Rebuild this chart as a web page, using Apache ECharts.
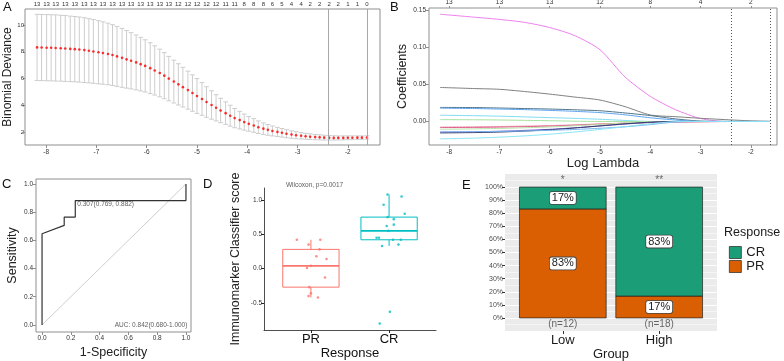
<!DOCTYPE html>
<html>
<head>
<meta charset="utf-8">
<title>Immunomarker classifier panels</title>
<script src="https://cdn.jsdelivr.net/npm/echarts@6/dist/echarts.min.js"></script>
<style>
  html, body { margin: 0; padding: 0; background: #fff; }
  #chart { width: 784px; height: 361px; }
</style>
</head>
<body>
<div id="chart"></div>
<script>
// ---------- A: cross-validated binomial deviance ----------
const logLambda = [-8.18, -8.09, -7.99, -7.90, -7.81, -7.71, -7.62, -7.52, -7.43, -7.34,
  -7.24, -7.15, -7.06, -6.96, -6.87, -6.77, -6.68, -6.59, -6.49, -6.40,
  -6.31, -6.21, -6.12, -6.03, -5.93, -5.84, -5.74, -5.65, -5.56, -5.46,
  -5.37, -5.28, -5.18, -5.09, -5.00, -4.90, -4.81, -4.71, -4.62, -4.53,
  -4.43, -4.34, -4.25, -4.15, -4.06, -3.97, -3.87, -3.78, -3.68, -3.59,
  -3.50, -3.40, -3.31, -3.22, -3.12, -3.03, -2.93, -2.84, -2.75, -2.65,
  -2.56, -2.47, -2.37, -2.28, -2.19, -2.09, -2.00, -1.91, -1.81, -1.72, -1.62];
const cvMean = [8.33, 8.32, 8.31, 8.30, 8.29, 8.27, 8.25, 8.22, 8.20, 8.17,
  8.13, 8.08, 8.03, 7.97, 7.91, 7.84, 7.76, 7.66, 7.55, 7.44,
  7.33, 7.21, 7.08, 6.95, 6.78, 6.61, 6.42, 6.22, 6.00, 5.78,
  5.57, 5.36, 5.14, 4.92, 4.70, 4.48, 4.25, 4.03, 3.82, 3.62,
  3.42, 3.23, 3.05, 2.90, 2.75, 2.62, 2.50, 2.37, 2.26, 2.17,
  2.09, 2.02, 1.95, 1.88, 1.82, 1.77, 1.73, 1.69, 1.66, 1.63,
  1.61, 1.59, 1.58, 1.57, 1.57, 1.57, 1.58, 1.58, 1.59, 1.59, 1.60];
const cvSd = [2.47, 2.47, 2.47, 2.47, 2.47, 2.46, 2.46, 2.45, 2.44, 2.43,
  2.42, 2.40, 2.38, 2.36, 2.33, 2.30, 2.27, 2.24, 2.20, 2.15,
  2.10, 2.05, 2.00, 1.95, 1.90, 1.84, 1.78, 1.72, 1.66, 1.60,
  1.54, 1.48, 1.42, 1.36, 1.30, 1.22, 1.14, 1.06, 0.98, 0.91,
  0.84, 0.78, 0.72, 0.66, 0.60, 0.55, 0.51, 0.47, 0.43, 0.40,
  0.37, 0.34, 0.32, 0.30, 0.28, 0.26, 0.24, 0.22, 0.21, 0.20,
  0.19, 0.18, 0.17, 0.16, 0.15, 0.15, 0.14, 0.14, 0.13, 0.13, 0.13];
// non-zero coefficient counts printed above every second lambda
const nzeroTop = [13, 13, 13, 13, 13, 13, 13, 13, 13, 13, 13, 13, 13, 13, 13,
  12, 12, 12, 12, 12, 11, 11, 8, 8, 8, 6, 5, 4, 4, 2, 2, 2, 2, 1, 1, 0];
const lambdaLines = [-2.38, -1.62];
const aXTicks = [-8, -7, -6, -5, -4, -3, -2];
const aYTicks = [2, 4, 6, 8, 10];

// ---------- B: coefficient paths ----------
const pathLambda = [-8.18, -7.5, -7.0, -6.5, -6.0, -5.5, -5.0, -4.5, -4.0, -3.5, -3.0, -2.5, -2.0, -1.62];
const coef01 = [0.145, 0.141, 0.138, 0.134, 0.127, 0.116, 0.097, 0.060, 0.034, 0.016, 0.004, 0, 0, 0];
const coef02 = [0.046, 0.0445, 0.0435, 0.0405, 0.037, 0.033, 0.029, 0.020, 0.0088, 0.0065, 0.0043, 0.0025, 0.0008, 0];
const coef03 = [0.0190, 0.0188, 0.0182, 0.0175, 0.0168, 0.0158, 0.0145, 0.0115, 0.0080, 0.0035, 0.0005, 0, 0, 0];
const coef04 = [0.0180, 0.0175, 0.0168, 0.0160, 0.0150, 0.0137, 0.0120, 0.0090, 0.0050, 0.0020, 0, 0, 0, 0];
const coef05 = [0.0085, 0.0078, 0.0072, 0.0062, 0.0052, 0.0042, 0.0030, 0.0014, 0, 0, 0, 0, 0, 0];
const coef06 = [0.0025, 0.0023, 0.0020, 0.0015, 0.0010, 0.0004, 0, 0, 0, 0, 0, 0, 0, 0];
const coef07 = [-0.0075, -0.0072, -0.0068, -0.0062, -0.0055, -0.0045, -0.0032, -0.0022, -0.0013, -0.0006, -0.0002, 0, 0, 0];
const coef08 = [-0.0082, -0.0080, -0.0076, -0.0070, -0.0062, -0.0050, -0.0036, -0.0024, -0.0015, -0.0009, -0.0005, -0.0001, 0, 0];
const coef09 = [-0.0105, -0.0100, -0.0094, -0.0085, -0.0074, -0.0058, -0.0040, -0.0020, -0.0004, 0, 0, 0, 0, 0];
const coef10 = [-0.0145, -0.0140, -0.0132, -0.0120, -0.0106, -0.0085, -0.0060, -0.0035, -0.0012, 0, 0, 0, 0, 0];
const coef11 = [-0.0155, -0.0150, -0.0143, -0.0130, -0.0112, -0.0088, -0.0060, -0.0032, -0.0010, 0, 0, 0, 0, 0];
const coef12 = [-0.0140, -0.0138, -0.0134, -0.0128, -0.0120, -0.0108, -0.0092, -0.0072, -0.0042, -0.0008, 0, 0, 0, 0];
const coef13 = [-0.0235, -0.0225, -0.0212, -0.0195, -0.0172, -0.0142, -0.0108, -0.0070, -0.0032, -0.0002, 0, 0, 0, 0];
const coefPaths = [coef01, coef02, coef03, coef04, coef05, coef06, coef07, coef08, coef09, coef10, coef11, coef12, coef13];
const pathColors = ['#EE7FEE', '#808080', '#4F7388', '#5DA5F0', '#7EDCF2', '#A6E3A0', '#F5A3B8',
  '#E0608A', '#B7E4A8', '#8A63D2', '#2F3A68', '#76B7F2', '#8AE6F5'];
const bTicks = [-8, -7, -6, -5, -4, -3, -2];
const bTopCounts = [13, 13, 13, 12, 8, 4, 2];
const bYTicks = [0, 0.05, 0.10, 0.15];

// ---------- C: ROC ----------
const rocX = [0, 0, 0.154, 0.154, 0.231, 0.231, 1, 1];
const rocY = [0, 0.647, 0.706, 0.765, 0.765, 0.882, 0.882, 1];
const diagX = [0, 1];
const rocCutoff = 0.307, rocSpec = 0.769, rocSens = 0.882;
const aucValue = 0.842, aucLow = 0.680, aucHigh = 1.000;
const cTicks = [0, 0.2, 0.4, 0.6, 0.8, 1.0];

// ---------- D: classifier score by response ----------
const dGroups = ['PR', 'CR'];
const prX = [0.82, 0.97, 1.12, 1.11, 1.07, 1.20, 1.00, 0.95, 1.18, 0.98, 1.00, 0.97, 1.09];
const prY = [0.42, 0.35, 0.42, 0.28, 0.18, 0.14, 0.04, 0.01, -0.13, -0.27, -0.36, -0.40, -0.42];
const crX = [1.98, 2.16, 1.93, 2.20, 1.98, 2.06, 2.06, 1.97, 1.99, 1.84, 1.87, 2.05, 2.15, 1.91, 2.12, 2.01, 1.88];
const crY = [1.08, 1.05, 0.93, 0.80, 0.75, 0.72, 0.64, 0.62, 0.55, 0.45, 0.45, 0.42, 0.42, 0.33, 0.35, -0.63, -0.80];
const prBox = [-0.42, -0.27, 0.04, 0.28, 0.42];
const crBox = [0.33, 0.42, 0.55, 0.75, 1.08];
const wilcoxonP = '0.0017';
const dYTicks = [-0.5, 0, 0.5, 1.0];

// ---------- E: response share by group ----------
const eGroups = ['Low', 'High'];
const eCR = [16.7, 83.3];
const ePR = [83.3, 16.7];
const eN = [12, 18];
const eSig = ['*', '**'];
const eYTicks = [0, 10, 20, 30, 40, 50, 60, 70, 80, 90, 100];

const FONT = '"Liberation Sans", Arial, Helvetica, sans-serif';
const frame = '#8f8f8f';
const tickText = '#333';

const topLambda = logLambda.filter((_, i) => i % 2 === 0);

function nearestIndex(arr, v) {
  let k = 0, best = Infinity;
  arr.forEach((t, j) => { const d = Math.abs(t - v); if (d < best) { best = d; k = j; } });
  return k;
}

const chart = echarts.init(document.getElementById('chart'));

const series = [];

// A error bars
series.push({
  type: 'custom', name: 'cvError', xAxisIndex: 0, yAxisIndex: 0, silent: true, z: 2,
  data: logLambda.map((x, i) => [x, cvMean[i] - cvSd[i], cvMean[i] + cvSd[i]]),
  encode: { x: 0, y: [1, 2] },
  renderItem: function (params, api) {
    const hi = api.coord([api.value(0), api.value(2)]);
    const lo = api.coord([api.value(0), api.value(1)]);
    const w = 2.4;
    const style = { stroke: '#cdcdcd', lineWidth: 1 };
    return {
      type: 'group',
      children: [
        { type: 'line', shape: { x1: hi[0], y1: hi[1], x2: lo[0], y2: lo[1] }, style: style },
        { type: 'line', shape: { x1: hi[0] - w, y1: hi[1], x2: hi[0] + w, y2: hi[1] }, style: style },
        { type: 'line', shape: { x1: lo[0] - w, y1: lo[1], x2: lo[0] + w, y2: lo[1] }, style: style }
      ]
    };
  }
});
series.push({
  type: 'scatter', name: 'cvMean', xAxisIndex: 0, yAxisIndex: 0, z: 3,
  symbol: 'circle', symbolSize: 2.6, itemStyle: { color: '#ff0000' },
  data: logLambda.map((x, i) => [x, cvMean[i]]),
  markLine: {
    silent: true, symbol: 'none', label: { show: false },
    lineStyle: { color: '#a8a8a8', width: 1, type: 'solid' },
    data: lambdaLines.map(v => ({ xAxis: v }))
  }
});

// B coefficient paths
coefPaths.forEach((path, k) => {
  const s = {
    type: 'line', name: 'coef' + (k + 1), xAxisIndex: 2, yAxisIndex: 1,
    showSymbol: false, smooth: 0.25, z: 3,
    lineStyle: { width: 1, color: pathColors[k] },
    itemStyle: { color: pathColors[k] },
    data: pathLambda.map((x, i) => [x, path[i]])
  };
  if (k === 0) {
    s.markLine = {
      silent: true, symbol: 'none', label: { show: false },
      lineStyle: { color: '#555', width: 1, type: [1, 2] },
      data: lambdaLines.map(v => ({ xAxis: v }))
    };
  }
  series.push(s);
});

// C ROC
series.push({
  type: 'line', name: 'chance', xAxisIndex: 4, yAxisIndex: 2, showSymbol: false, silent: true,
  lineStyle: { color: '#cfcfcf', width: 1 },
  data: diagX.map(x => [x, x])
});
series.push({
  type: 'line', name: 'roc', xAxisIndex: 4, yAxisIndex: 2, showSymbol: false,
  lineStyle: { color: '#333', width: 1.2 },
  data: rocX.map((x, i) => [x, rocY[i]])
});
series.push({
  type: 'scatter', name: 'rocText', xAxisIndex: 4, yAxisIndex: 2, symbolSize: 0, silent: true,
  data: [
    { value: [1 - rocSpec, rocSens], label: { position: 'right', distance: 2, offset: [0, 4],
      formatter: rocCutoff.toFixed(3) + '(' + rocSpec.toFixed(3) + ', ' + rocSens.toFixed(3) + ')' } },
    { value: [1.01, 0], label: { position: 'left', distance: 0,
      formatter: 'AUC: ' + aucValue.toFixed(3) + '(' + aucLow.toFixed(3) + '-' + aucHigh.toFixed(3) + ')' } }
  ],
  label: { show: true, fontSize: 6.5, color: '#333', fontFamily: FONT }
});

// D boxes and points
const dColors = ['#F8766D', '#00BFC4'];
series.push({
  type: 'custom', name: 'boxes', xAxisIndex: 5, yAxisIndex: 3, z: 2, silent: true,
  data: [[1].concat(prBox), [2].concat(crBox)],
  encode: { x: 0, y: [1, 5] },
  renderItem: function (params, api) {
    const x = api.value(0);
    const half = 0.36;
    const c = dColors[params.dataIndex];
    const pMin = api.coord([x, api.value(1)]);
    const pQ1l = api.coord([x - half, api.value(2)]);
    const pMedl = api.coord([x - half, api.value(3)]);
    const pMedr = api.coord([x + half, api.value(3)]);
    const pQ3r = api.coord([x + half, api.value(4)]);
    const pQ1 = api.coord([x, api.value(2)]);
    const pQ3 = api.coord([x, api.value(4)]);
    const pMax = api.coord([x, api.value(5)]);
    const style = { stroke: c, lineWidth: 1, fill: null };
    return {
      type: 'group',
      children: [
        { type: 'rect', shape: { x: pQ1l[0], y: pQ3r[1], width: pQ3r[0] - pQ1l[0], height: pQ1l[1] - pQ3r[1] },
          style: { stroke: c, lineWidth: 1, fill: '#fff' } },
        { type: 'line', shape: { x1: pMedl[0], y1: pMedl[1], x2: pMedr[0], y2: pMedr[1] }, style: { stroke: c, lineWidth: 1.6 } },
        { type: 'line', shape: { x1: pQ3[0], y1: pQ3[1], x2: pMax[0], y2: pMax[1] }, style: style },
        { type: 'line', shape: { x1: pQ1[0], y1: pQ1[1], x2: pMin[0], y2: pMin[1] }, style: style }
      ]
    };
  }
});
series.push({
  type: 'scatter', name: 'PR points', xAxisIndex: 5, yAxisIndex: 3, z: 3, symbolSize: 2.6,
  itemStyle: { color: dColors[0] }, data: prX.map((x, i) => [x, prY[i]])
});
series.push({
  type: 'scatter', name: 'CR points', xAxisIndex: 5, yAxisIndex: 3, z: 3, symbolSize: 2.6,
  itemStyle: { color: dColors[1] }, data: crX.map((x, i) => [x, crY[i]])
});
series.push({
  type: 'scatter', name: 'wilcoxon', xAxisIndex: 5, yAxisIndex: 3, symbolSize: 0, silent: true, clip: false,
  data: [{ value: [0.68, 1.22] }],
  label: { show: true, position: 'right', distance: 0, fontSize: 6.5, color: '#333', fontFamily: FONT,
    formatter: 'Wilcoxon, p=' + wilcoxonP }
});

// E stacked percentages, drawn as segments [x, from, to]
function segmentRenderer(fill) {
  return function (params, api) {
    const x = api.value(0);
    const from = api.value(1), to = api.value(2);
    const tl = api.coord([x - 0.45, to]);
    const br = api.coord([x + 0.45, from]);
    return {
      type: 'rect',
      shape: { x: tl[0], y: tl[1], width: br[0] - tl[0], height: br[1] - tl[1] },
      style: { fill: fill, stroke: '#222', lineWidth: 0.7 },
      textContent: {
        style: {
          text: Math.round(to - from) + '%', fontSize: 11, fontFamily: FONT, fill: '#222',
          backgroundColor: '#fff', borderColor: '#444', borderWidth: 0.8, borderRadius: 2,
          padding: [1, 2, 0, 2]
        }
      },
      textConfig: { position: 'inside' }
    };
  };
}
series.push({
  type: 'custom', name: 'PR', xAxisIndex: 6, yAxisIndex: 4, z: 3,
  itemStyle: { color: '#D95F02', borderColor: '#222', borderWidth: 0.7 },
  encode: { x: 0, y: [1, 2] },
  renderItem: segmentRenderer('#D95F02'),
  data: eGroups.map((g, i) => [i + 1, 0, ePR[i]])
});
series.push({
  type: 'custom', name: 'CR', xAxisIndex: 6, yAxisIndex: 4, z: 3,
  itemStyle: { color: '#1B9E77', borderColor: '#222', borderWidth: 0.7 },
  encode: { x: 0, y: [1, 2] },
  renderItem: segmentRenderer('#1B9E77'),
  data: eGroups.map((g, i) => [i + 1, ePR[i], ePR[i] + eCR[i]])
});
series.push({
  type: 'scatter', name: 'eText', xAxisIndex: 6, yAxisIndex: 4, symbolSize: 0, silent: true,
  data: eGroups.map((g, i) => ({ value: [i + 1, 105], name: eSig[i] }))
    .concat(eGroups.map((g, i) => ({ value: [i + 1, -5], name: '(n=' + eN[i] + ')' }))),
  label: { show: true, position: 'inside', fontSize: 10, color: '#444', fontFamily: FONT, formatter: '{b}' }
});

const gridBase = { show: true, borderColor: frame, borderWidth: 1, backgroundColor: 'transparent',
  containLabel: false, outerBoundsMode: 'none' };

function frameAxis(extra) {
  const base = {
    type: 'value',
    axisLine: { show: false, onZero: false },
    splitLine: { show: false }
  };
  const out = Object.assign(base, extra);
  out.axisLine = Object.assign({ onZero: false }, out.axisLine);
  return out;
}

const option = {
  animation: false,
  backgroundColor: '#fff',
  textStyle: { fontFamily: FONT },
  grid: [
    Object.assign({}, gridBase, { left: 25, top: 9, width: 355, height: 136 }),
    Object.assign({}, gridBase, { left: 429, top: 8, width: 348, height: 137 }),
    Object.assign({}, gridBase, { left: 36, top: 179, width: 155, height: 153 }),
    Object.assign({}, gridBase, { left: 264, top: 188, width: 172, height: 142, show: false }),
    Object.assign({}, gridBase, { left: 505, top: 174, width: 212, height: 157, borderWidth: 0, backgroundColor: '#EBEBEB' })
  ],
  xAxis: [
    frameAxis({ gridIndex: 0, min: -8.42, max: -1.36,
      axisTick: { show: true, length: 3, customValues: aXTicks, lineStyle: { color: frame } },
      axisLabel: { customValues: aXTicks, fontSize: 6.5, color: tickText, margin: 4 } }),
    frameAxis({ gridIndex: 0, min: -8.42, max: -1.36, position: 'top',
      axisTick: { show: false },
      axisLabel: { customValues: topLambda, fontSize: 6, color: tickText, margin: 2,
        formatter: v => String(nzeroTop[nearestIndex(topLambda, v)]) } }),
    frameAxis({ gridIndex: 1, min: -8.40, max: -1.48,
      axisTick: { show: true, length: 3, customValues: bTicks, lineStyle: { color: frame } },
      axisLabel: { customValues: bTicks, fontSize: 6.5, color: tickText, margin: 4 },
      name: 'Log Lambda', nameLocation: 'middle', nameGap: 11,
      nameTextStyle: { fontSize: 13, color: '#222' } }),
    frameAxis({ gridIndex: 1, min: -8.40, max: -1.48, position: 'top',
      axisTick: { show: true, length: 2, customValues: bTicks, lineStyle: { color: frame } },
      axisLabel: { customValues: bTicks, fontSize: 6.5, color: tickText, margin: 2,
        formatter: v => String(bTopCounts[nearestIndex(bTicks, v)]) } }),
    frameAxis({ gridIndex: 2, min: -0.042, max: 1.035,
      axisTick: { show: true, length: 3, customValues: cTicks, lineStyle: { color: frame } },
      axisLabel: { customValues: cTicks, fontSize: 6.5, color: tickText, margin: 3, formatter: v => v.toFixed(1) },
      name: '1-Specificity', nameLocation: 'middle', nameGap: 14,
      nameTextStyle: { fontSize: 12.5, color: '#222' } }),
    frameAxis({ gridIndex: 3, min: 0.4, max: 2.6,
      axisLine: { show: true, onZero: false, lineStyle: { color: '#222', width: 0.8 } },
      axisTick: { show: true, length: 3, customValues: [1, 2], lineStyle: { color: '#222' } },
      axisLabel: { customValues: [1, 2], fontSize: 13, color: '#111', margin: 3,
        formatter: v => dGroups[Math.round(v) - 1] },
      name: 'Response', nameLocation: 'middle', nameGap: 16,
      nameTextStyle: { fontSize: 13, color: '#111' } }),
    frameAxis({ gridIndex: 4, min: 0.4, max: 2.6,
      axisTick: { show: true, length: 3, customValues: [1, 2], lineStyle: { color: '#333' } },
      axisLabel: { customValues: [1, 2], fontSize: 13, color: '#1a1a1a', margin: 3,
        formatter: v => eGroups[Math.round(v) - 1] },
      name: 'Group', nameLocation: 'middle', nameGap: 16,
      nameTextStyle: { fontSize: 13, color: '#1a1a1a' } })
  ],
  yAxis: [
    frameAxis({ gridIndex: 0, min: 1.04, max: 11.2,
      axisTick: { show: true, length: 2, customValues: aYTicks, lineStyle: { color: frame } },
      axisLabel: { customValues: aYTicks, fontSize: 6, color: tickText, margin: 1 },
      name: 'Binomial Deviance', nameLocation: 'middle', nameGap: 4,
      nameTextStyle: { fontSize: 12, color: '#222' } }),
    frameAxis({ gridIndex: 1, min: -0.0318, max: 0.1534,
      axisTick: { show: true, length: 3, customValues: bYTicks, lineStyle: { color: frame } },
      axisLabel: { customValues: bYTicks, fontSize: 6.5, color: tickText, margin: 3, formatter: v => v.toFixed(2) },
      name: 'Coefficients', nameLocation: 'middle', nameGap: 16,
      nameTextStyle: { fontSize: 12.5, color: '#222' } }),
    frameAxis({ gridIndex: 2, min: -0.05, max: 1.035,
      axisTick: { show: true, length: 3, customValues: cTicks, lineStyle: { color: frame } },
      axisLabel: { customValues: cTicks, fontSize: 6.5, color: tickText, margin: 3, formatter: v => v.toFixed(1) },
      name: 'Sensitivity', nameLocation: 'middle', nameGap: 17,
      nameTextStyle: { fontSize: 12.5, color: '#222' } }),
    frameAxis({ gridIndex: 3, min: -0.894, max: 1.174,
      axisLine: { show: true, onZero: false, lineStyle: { color: '#222', width: 0.8 } },
      axisTick: { show: true, length: 3, customValues: dYTicks, lineStyle: { color: '#222' } },
      axisLabel: { customValues: dYTicks, fontSize: 6.5, color: tickText, margin: 2, formatter: v => v.toFixed(1) },
      name: 'Immunomarker Classifier score', nameLocation: 'middle', nameGap: 22,
      nameTextStyle: { fontSize: 12.5, color: '#222' } }),
    frameAxis({ gridIndex: 4, min: -10, max: 110, interval: 10,
      axisTick: { show: true, length: 3, customValues: eYTicks, lineStyle: { color: '#333' } },
      axisLabel: { customValues: eYTicks, fontSize: 7, color: '#4d4d4d', margin: 2, formatter: v => v + '%' },
      splitLine: { show: true, lineStyle: { color: '#fff', width: 1.1 } },
      minorTick: { show: false, splitNumber: 2 },
      minorSplitLine: { show: true, lineStyle: { color: '#fff', width: 0.5 } } })
  ],
  legend: {
    data: ['CR', 'PR'], orient: 'vertical', left: 729, top: 246, padding: 0,
    itemWidth: 12, itemHeight: 12, itemGap: 1, icon: 'rect',
    itemStyle: { borderColor: '#222', borderWidth: 0.7 },
    textStyle: { fontSize: 13, color: '#1a1a1a', fontFamily: FONT }
  },
  graphic: [
    { type: 'text', left: 3, top: 1, style: { text: 'A', fill: '#111', font: '13px ' + FONT } },
    { type: 'text', left: 390, top: 1, style: { text: 'B', fill: '#111', font: '13px ' + FONT } },
    { type: 'text', left: 2, top: 178, style: { text: 'C', fill: '#111', font: '13px ' + FONT } },
    { type: 'text', left: 203, top: 178, style: { text: 'D', fill: '#111', font: '13px ' + FONT } },
    { type: 'text', left: 462, top: 179, style: { text: 'E', fill: '#111', font: '13px ' + FONT } },
    { type: 'text', left: 724, top: 226, style: { text: 'Response', fill: '#1a1a1a', font: '12.5px ' + FONT } }
  ],
  series: series
};

chart.setOption(option);
</script>
</body>
</html>
